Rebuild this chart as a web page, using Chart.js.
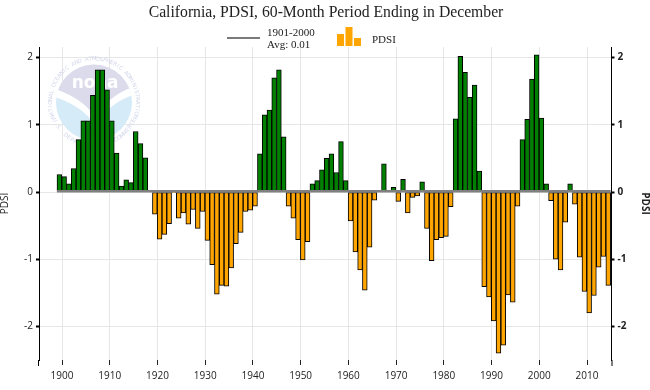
<!DOCTYPE html>
<html>
<head>
<meta charset="utf-8">
<script src="https://cdn.jsdelivr.net/npm/chart.js@4/dist/chart.umd.min.js"></script>
<style>
  html, body { margin: 0; padding: 0; background: #fff; }
  #wrap { position: relative; width: 650px; height: 390px; }
</style>
</head>
<body>
<div id="wrap"><canvas id="c" width="650" height="390"></canvas></div>
<script>
// ---------------- DATA ----------------
const chartTitle = "California, PDSI, 60-Month Period Ending in December";
const seriesName = "PDSI";
const avgLabel = "1901-2000";
const avgValue = 0.01;

const years = [
  1899,1900,1901,1902,1903,1904,1905,1906,1907,1908,1909,
  1910,1911,1912,1913,1914,1915,1916,1917,1918,1919,
  1920,1921,1922,1923,1924,1925,1926,1927,1928,1929,
  1930,1931,1932,1933,1934,1935,1936,1937,1938,1939,
  1940,1941,1942,1943,1944,1945,1946,1947,1948,1949,
  1950,1951,1952,1953,1954,1955,1956,1957,1958,1959,
  1960,1961,1962,1963,1964,1965,1966,1967,1968,1969,
  1970,1971,1972,1973,1974,1975,1976,1977,1978,1979,
  1980,1981,1982,1983,1984,1985,1986,1987,1988,1989,
  1990,1991,1992,1993,1994,1995,1996,1997,1998,1999,
  2000,2001,2002,2003,2004,2005,2006,2007,2008,2009,
  2010,2011,2012,2013,2014
];

const pdsi = [
  0.26, 0.23, 0.12, 0.35, 0.78, 1.06, 1.06, 1.44, 1.82, 1.82, 1.52,
  1.06, 0.58, 0.09, 0.18, 0.14, 0.90, 0.72, 0.51, 0.01, -0.33,
  -0.70, -0.63, -0.47, -0.01, -0.39, -0.31, -0.48, -0.26, -0.54, -0.29,
  -0.72, -1.08, -1.52, -1.39, -1.40, -1.13, -0.77, -0.60, -0.29, -0.27,
  -0.21, 0.57, 1.15, 1.22, 1.70, 1.82, 0.82, -0.21, -0.39, -0.71,
  -1.01, -0.74, 0.12, 0.17, 0.33, 0.50, 0.57, 0.29, 0.75, 0.17,
  -0.43, -0.89, -1.16, -1.46, -0.82, -0.12, 0.00, 0.42, 0.00, 0.07,
  -0.14, 0.19, -0.31, -0.08, -0.06, 0.15, -0.54, -1.02, -0.71, -0.68,
  -0.66, -0.22, 1.09, 2.02, 1.78, 1.41, 1.59, 0.31, -1.41, -1.56,
  -1.92, -2.40, -2.28, -1.53, -1.64, -0.21, 0.78, 1.08, 1.68, 2.04,
  1.10, 0.12, -0.13, -1.00, -1.16, -0.45, 0.12, -0.18, -0.97, -1.48,
  -1.80, -1.54, -1.12, -0.96, -1.39
];

const xTicks = [1900,1910,1920,1930,1940,1950,1960,1970,1980,1990,2000,2010];
const yTicks = [-2,-1,0,1,2];

// ---------------- STYLE ----------------
const POS_COLOR = '#008000';
const NEG_COLOR = '#FFA500';
const GRID = '#e6e6e6';
const barShift = 0.45;   // bars drawn across each year
const xMin = 1895.18, xMax = 2015.13;
const yMin = -2.5, yMax = 2.158;

const barData = years.map((yr, i) => ({ x: yr + barShift, y: pdsi[i] }));
const avgData = [
  { x: years[0] + barShift - 0.5, y: avgValue },
  { x: years[years.length - 1] + barShift + 0.5, y: avgValue }
];

function drawNoaa(ctx) {
  const cx = 94, cy = 102.5;
  ctx.save();
  ctx.fillStyle = '#d3d6ea';
  ctx.font = '5.5px "DejaVu Sans"';
  ctx.textAlign = 'center';
  ctx.textBaseline = 'middle';
  const topTxt = 'NATIONAL OCEANIC AND ATMOSPHERIC ADMINISTRATION';
  const rT = 43.5;
  const a0 = -Math.PI * 1.12, a1 = Math.PI * 0.12;
  for (let i = 0; i < topTxt.length; i++) {
    const a = a0 + (a1 - a0) * (i + 0.5) / topTxt.length;
    ctx.save();
    ctx.translate(cx + rT * Math.cos(a), cy + rT * Math.sin(a));
    ctx.rotate(a + Math.PI / 2);
    ctx.fillText(topTxt[i], 0, 0);
    ctx.restore();
  }
  const botTxt = 'U.S. DEPARTMENT OF COMMERCE';
  const b0 = Math.PI * 0.88, b1 = Math.PI * 0.12;
  for (let i = 0; i < botTxt.length; i++) {
    const a = b0 + (b1 - b0) * (i + 0.5) / botTxt.length;
    ctx.save();
    ctx.translate(cx + rT * Math.cos(a), cy + rT * Math.sin(a));
    ctx.rotate(a - Math.PI / 2);
    ctx.fillText(botTxt[i], 0, 0);
    ctx.restore();
  }
  const r = 38;
  ctx.beginPath();
  ctx.arc(cx, cy, r, 0, Math.PI * 2);
  ctx.clip();
  ctx.fillStyle = '#d6ebf8';
  ctx.fillRect(cx - r, cy - r, 2 * r, 2 * r);
  const gull = (dy) => {
    ctx.beginPath();
    ctx.moveTo(cx - r - 2, cy - 14 + dy);
    ctx.lineTo(cx - r - 2, cy - r - 2);
    ctx.lineTo(cx + r + 2, cy - r - 2);
    ctx.lineTo(cx + r + 2, cy - 16 + dy);
    ctx.quadraticCurveTo(cx + 12, cy - 6 + dy, cx + 2, cy + 16 + dy);
    ctx.quadraticCurveTo(cx - 10, cy - 4 + dy, cx - r - 2, cy - 14 + dy);
    ctx.closePath();
  };
  ctx.fillStyle = '#ffffff';
  gull(8);
  ctx.fill();
  ctx.fillStyle = '#dcdbec';
  gull(0);
  ctx.fill();
  ctx.fillStyle = '#ffffff';
  ctx.font = 'bold 17px "DejaVu Sans"';
  ctx.textAlign = 'center';
  ctx.textBaseline = 'middle';
  ctx.fillText('noaa', cx + 1, cy - 19);
  ctx.restore();
}

const decor = {
  id: 'decor',
  beforeDatasetsDraw(chart) {
    drawNoaa(chart.ctx);
  },
  afterDraw(chart) {
    const ctx = chart.ctx;
    const ca = chart.chartArea;
    ctx.save();
    // extend the two vertical axis lines into the tick band
    ctx.strokeStyle = '#000';
    ctx.lineWidth = 1;
    ctx.beginPath();
    ctx.moveTo(ca.left - 0.5, ca.bottom);
    ctx.lineTo(ca.left - 0.5, ca.bottom + 6);
    ctx.moveTo(ca.right + 0.5, ca.bottom);
    ctx.lineTo(ca.right + 0.5, ca.bottom + 6);
    ctx.stroke();
    // title
    ctx.fillStyle = '#222';
    ctx.font = '15.7px "Liberation Serif"';
    ctx.textAlign = 'center';
    ctx.textBaseline = 'middle';
    ctx.fillText(chartTitle, 326, 13);
    // legend: average line
    ctx.strokeStyle = '#7a7a7a';
    ctx.lineWidth = 2;
    ctx.beginPath();
    ctx.moveTo(227, 38);
    ctx.lineTo(260, 38);
    ctx.stroke();
    ctx.font = '11px "Liberation Serif"';
    ctx.textAlign = 'left';
    ctx.fillStyle = '#222';
    ctx.fillText(avgLabel, 267, 33);
    ctx.fillText('Avg: ' + avgValue.toFixed(2), 267, 45.5);
    // legend: bar icon
    ctx.fillStyle = NEG_COLOR;
    ctx.fillRect(337, 34, 7, 12);
    ctx.fillRect(345.5, 27, 7, 19);
    ctx.fillRect(354, 38, 7, 8);
    ctx.fillStyle = '#222';
    ctx.fillText(seriesName, 372, 40);
    ctx.restore();
  }
};

new Chart(document.getElementById('c'), {
  type: 'bar',
  data: {
    datasets: [
      {
        type: 'line',
        label: avgLabel,
        data: avgData,
        borderColor: '#808080',
        borderWidth: 2.5,
        pointRadius: 0,
        order: 0,
        xAxisID: 'x',
        yAxisID: 'y'
      },
      {
        type: 'bar',
        label: seriesName,
        data: barData,
        backgroundColor: (c) => (c.raw && c.raw.y >= 0 ? POS_COLOR : NEG_COLOR),
        borderColor: '#000',
        borderWidth: 1,
        borderSkipped: false,
        barPercentage: 1,
        categoryPercentage: 1,
        order: 1,
        xAxisID: 'x',
        yAxisID: 'y'
      }
    ]
  },
  options: {
    responsive: false,
    animation: false,
    devicePixelRatio: 1,
    layout: { padding: { top: 47, left: 0, right: 0, bottom: 0 } },
    plugins: {
      legend: { display: false },
      title: { display: false },
      tooltip: { enabled: false }
    },
    scales: {
      x: {
        type: 'linear',
        position: 'bottom',
        offset: false,
        min: xMin,
        max: xMax,
        afterBuildTicks: (s) => { s.ticks = xTicks.map(v => ({ value: v })); },
        afterFit: (s) => { s.height = 30; },
        grid: { color: GRID, tickColor: '#222', tickLength: 5, lineWidth: 1, offset: false },
        border: { display: false },
        ticks: {
          font: { family: 'Open Sans', size: 10 },
          color: '#222',
          padding: 5,
          maxRotation: 0,
          callback: (v) => String(v)
        }
      },
      y: {
        type: 'linear',
        position: 'left',
        min: yMin,
        max: yMax,
        afterBuildTicks: (s) => { s.ticks = yTicks.map(v => ({ value: v })); },
        afterFit: (s) => { s.width = 39; },
        grid: { color: GRID, tickColor: '#000', tickLength: 3, tickWidth: 2 },
        border: { display: true, color: '#000', width: 1 },
        ticks: {
          font: { family: 'Open Sans', size: 10 },
          color: '#222',
          padding: 3,
          callback: (v) => String(v)
        },
        title: {
          display: true,
          text: 'PDSI',
          font: { family: 'Open Sans', size: 10, lineHeight: 1 },
          color: '#222',
          padding: { top: 0, bottom: 0 }
        }
      },
      y2: {
        type: 'linear',
        position: 'right',
        min: yMin,
        max: yMax,
        afterBuildTicks: (s) => { s.ticks = yTicks.map(v => ({ value: v })); },
        afterFit: (s) => { s.width = 38.5; },
        grid: { drawOnChartArea: false, tickColor: '#000', tickLength: 3, tickWidth: 2 },
        border: { display: true, color: '#000', width: 1 },
        ticks: {
          font: { family: 'Open Sans', size: 10, weight: 'bold' },
          color: '#222',
          padding: 3,
          callback: (v) => String(v)
        },
        title: {
          display: true,
          text: 'PDSI',
          font: { family: 'Open Sans', size: 10, weight: 'bold', lineHeight: 1 },
          color: '#222',
          padding: { top: 0, bottom: 0 }
        }
      }
    }
  },
  plugins: [decor]
});
</script>
</body>
</html>
